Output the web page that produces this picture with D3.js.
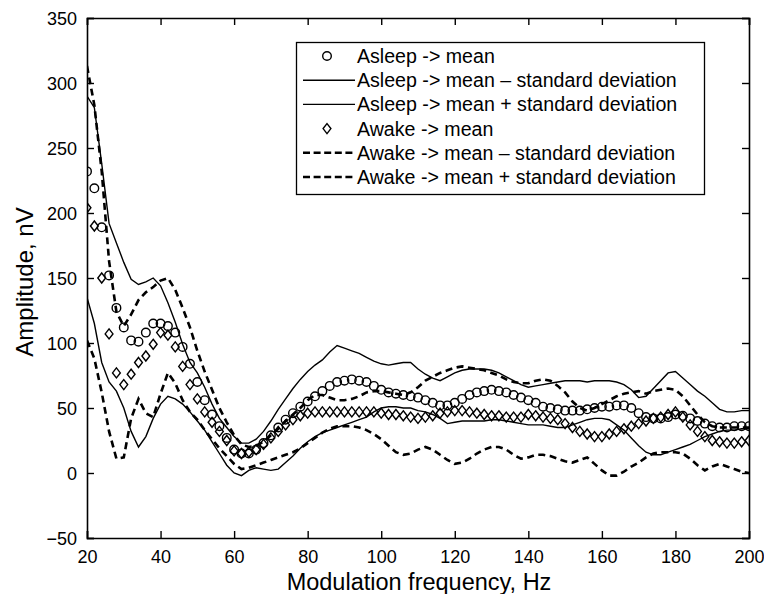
<!DOCTYPE html>
<html>
<head>
<meta charset="utf-8">
<script src="https://cdn.jsdelivr.net/npm/d3@7/dist/d3.min.js"></script>
<style>
  html, body { margin: 0; padding: 0; background: #fff; }
  svg { display: block; font-family: "Liberation Sans", Arial, Helvetica, sans-serif; }
</style>
</head>
<body>
<svg id="chart" width="764" height="594"></svg>
<script>
// ---- data ----
const freq = d3.range(20, 201, 2); // Modulation frequency, Hz

const asleepMean = [232,219,189,152,127,112,102,101,108,115,115,113,108,97,84,70,56,45,36,27,
  18,15,15,18,23,29,35,41,46,51,55,59,63,67,70,71,72,71,70,67,
  64,62,61,60,59,58,56,54,52,52,54,57,60,62,63,64,63,62,60,58,
  56,54,51,50,49,48,48,48,49,50,51,51,52,52,50,46,43,42,42,43,
  45,44,42,40,38,36,35,35,36,36,36];

const asleepLo = [135,115,85,70,63,50,32,20,28,42,53,59,57,53,47,40,33,24,15,6,
  0,-2,2,4,3,2,3,8,13,19,24,28,31,33,35,37,39,41,43,47,
  50,51,51,50,50,48,47,45,42,38,39,40,40,40,40,41,41,40,39,38,
  37,37,37,36,35,35,37,39,41,42,42,41,37,33,27,21,16,14,14,16,
  18,20,22,25,28,30,32,33,33,34,34];

const asleepHi = [290,281,238,192,177,162,149,145,147,150,144,131,116,99,85,77,66,53,42,35,
  28,23,23,26,32,40,49,57,65,72,78,83,87,93,98,96,94,92,89,86,
  84,83,84,85,85,80,76,73,71,74,77,79,80,80,80,79,77,74,71,68,
  66,67,68,69,70,71,71,71,70,71,71,71,70,68,64,58,59,65,71,77,
  78,73,68,63,59,54,49,47,47,48,48];

const awakeMean = [204,190,150,107,77,68,76,85,90,99,108,106,97,82,68,57,47,39,32,25,
  17,15,16,18,22,27,32,37,41,44,46,47,47,47,47,47,47,47,47,47,
  46,45,45,44,43,42,43,44,46,47,48,48,47,46,45,44,44,43,43,43,
  45,44,43,42,41,38,35,32,30,28,28,30,32,34,36,38,40,42,43,45,
  47,43,37,32,28,25,24,23,23,24,25];

const awakeLo = [102,88,62,32,11,12,42,57,46,43,61,77,69,56,47,41,33,26,19,13,
  7,3,4,6,8,10,12,14,16,19,23,27,31,34,36,36,36,35,33,30,
  26,21,16,14,15,18,20,18,14,10,7,8,11,15,18,20,20,18,14,11,
  12,14,14,13,11,9,8,10,12,7,2,-2,-2,1,5,8,12,15,16,16,
  16,15,11,6,2,5,7,5,3,1,0];

const awakeHi = [313,283,232,163,124,113,122,133,139,143,148,150,141,127,112,94,78,64,50,39,
  29,22,20,21,24,29,34,40,45,50,56,60,60,58,56,56,57,59,62,63,
  63,62,61,60,62,66,71,74,77,79,81,82,81,80,79,77,75,72,70,69,
  69,71,72,71,67,62,55,50,48,50,53,56,59,61,62,63,61,63,64,65,
  64,59,52,45,39,36,35,35,35,35,35];

const xTicks = [20,40,60,80,100,120,140,160,180,200];
const yTicks = [-50,0,50,100,150,200,250,300,350];

const legendLabels = [
  "Asleep -> mean",
  "Asleep -> mean \u2013 standard deviation",
  "Asleep -> mean + standard deviation",
  "Awake -> mean",
  "Awake -> mean \u2013 standard deviation",
  "Awake -> mean + standard deviation"
];
const legendKinds = ["circle","solid","solid","diamond","dashed","dashed"];

// ---- chart ----
(function () {
const svg = d3.select("#chart");
const pL = 87, pR = 749, pT = 18, pB = 538;
const x = d3.scaleLinear().domain([20, 200]).range([pL, pR]);
const y = d3.scaleLinear().domain([-50, 350]).range([pB, pT]);

const solidStyle = s => s.attr("fill","none").attr("stroke","#000").attr("stroke-width",1.4);
const dashStyle = s => s.attr("fill","none").attr("stroke","#000").attr("stroke-width",2.6).attr("stroke-dasharray","7,4.5");

svg.append("clipPath").attr("id","clip")
  .append("rect").attr("x", pL).attr("y", pT).attr("width", pR-pL).attr("height", pB-pT);

const plot = svg.append("g").attr("clip-path","url(#clip)");
const line = d3.line().x((d,i) => x(freq[i])).y(d => y(d));

plot.append("path").datum(asleepLo).attr("d", line).call(solidStyle);
plot.append("path").datum(asleepHi).attr("d", line).call(solidStyle);
plot.append("path").datum(awakeLo).attr("d", line).call(dashStyle);
plot.append("path").datum(awakeHi).attr("d", line).call(dashStyle);

const diamond = "M0,-5L3.9,0L0,5L-3.9,0Z";
plot.append("g").selectAll("path").data(awakeMean).join("path")
  .attr("d", diamond)
  .attr("transform", (d,i) => `translate(${x(freq[i])},${y(d)})`)
  .attr("fill","none").attr("stroke","#000").attr("stroke-width",1.4);

plot.append("g").selectAll("circle").data(asleepMean).join("circle")
  .attr("cx", (d,i) => x(freq[i])).attr("cy", d => y(d)).attr("r", 4.3)
  .attr("fill","none").attr("stroke","#000").attr("stroke-width",1.4);

// axes (box with inward ticks)
const tickLen = 7;
const axB = svg.append("g").attr("transform", `translate(0,${pB})`)
  .call(d3.axisBottom(x).tickValues(xTicks).tickSize(-tickLen).tickPadding(10).tickFormat(d3.format("d")));
const axT = svg.append("g").attr("transform", `translate(0,${pT})`)
  .call(d3.axisTop(x).tickValues(xTicks).tickSize(-tickLen).tickFormat(""));
const axL = svg.append("g").attr("transform", `translate(${pL},0)`)
  .call(d3.axisLeft(y).tickValues(yTicks).tickSize(-tickLen).tickPadding(10).tickFormat(d3.format("d")));
const axR = svg.append("g").attr("transform", `translate(${pR},0)`)
  .call(d3.axisRight(y).tickValues(yTicks).tickSize(-tickLen).tickFormat(""));

[axB, axT, axL, axR].forEach(a => {
  a.select(".domain").attr("stroke","#000").attr("stroke-width",1.6);
  a.selectAll(".tick line").attr("stroke","#000").attr("stroke-width",1.4);
  a.selectAll("text").attr("fill","#000").attr("font-size", 18)
    .attr("font-family", '"Liberation Sans", Arial, sans-serif');
});
axB.selectAll("text").attr("dy", "0.82em");
axL.selectAll("text").attr("dy", "0.36em");

// axis titles
svg.append("text").attr("x", 419).attr("y", 589.5).attr("text-anchor","middle")
  .attr("font-size", 23.5).attr("fill","#000").text("Modulation frequency, Hz");
svg.append("text").attr("transform", "translate(33,282) rotate(-90)").attr("text-anchor","middle")
  .attr("font-size", 24).attr("fill","#000").text("Amplitude, nV");

// legend
const lg = svg.append("g");
lg.append("rect").attr("x", 296.5).attr("y", 42.5).attr("width", 408).attr("height", 152)
  .attr("fill","#fff").attr("stroke","#000").attr("stroke-width",1.3);
const rowY = i => 56 + i * 24.2;
legendKinds.forEach((k, i) => {
  const yy = rowY(i);
  if (k === "circle") {
    lg.append("circle").attr("cx", 327).attr("cy", yy).attr("r", 4.3)
      .attr("fill","none").attr("stroke","#000").attr("stroke-width",1.4);
  } else if (k === "diamond") {
    lg.append("path").attr("d", diamond).attr("transform", `translate(327,${yy})`)
      .attr("fill","none").attr("stroke","#000").attr("stroke-width",1.4);
  } else {
    const l = lg.append("line").attr("x1", 303).attr("x2", 355).attr("y1", yy).attr("y2", yy);
    if (k === "solid") l.call(solidStyle); else l.call(dashStyle).attr("stroke-dasharray","7,3.6");
  }
  lg.append("text").attr("x", 357).attr("y", yy).attr("dy","0.36em")
    .attr("font-size", 19.6).attr("fill","#000").text(legendLabels[i]);
});
})();
</script>
</body>
</html>
